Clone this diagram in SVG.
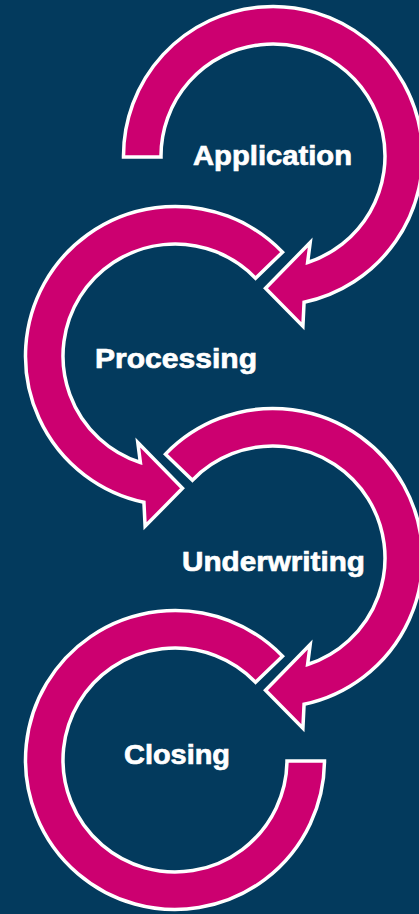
<svg xmlns="http://www.w3.org/2000/svg" width="419" height="914" viewBox="0 0 419 914">
  <style>
    .ring { fill: #cc0070; stroke: #ffffff; stroke-width: 3.5; stroke-linejoin: miter; stroke-miterlimit: 10; }
    .label { fill: #ffffff; stroke: #ffffff; stroke-width: 0.7; font-family: "Liberation Sans", Arial, sans-serif; font-weight: bold; font-size: 28.5px; }
  </style>
  <defs>
    <!-- ring arrow: flat tail at 224deg, clockwise sweep, arrowhead near 75deg -->
    <path id="arrow-ring" d="M -80.57 -77.80 L -107.54 -103.85 A 149.5 149.5 0 1 1 31.08 146.23 L 29.9 170.3 L -7.5 132.3 L 37.2 86.5 L 34.61 106.52 A 112 112 0 1 0 -80.57 -77.80 Z"/>
  </defs>

  <rect x="0" y="0" width="419" height="914" fill="#033a5d"/>

  <g id="application">
    <path class="ring" transform="translate(273,156)" d="M -112 1 L -149.5 1 A 149.5 149.5 0 1 1 31.08 146.23 L 29.9 170.3 L -7.5 132.3 L 37.2 86.5 L 34.61 106.52 A 112 112 0 1 0 -112 1 Z"/>
    <text class="label" x="193" y="165" textLength="159" lengthAdjust="spacingAndGlyphs">Application</text>
  </g>

  <g id="processing">
    <use class="ring" href="#arrow-ring" transform="translate(175,356) scale(-1,1)"/>
    <text class="label" x="95" y="368" textLength="162" lengthAdjust="spacingAndGlyphs">Processing</text>
  </g>

  <g id="underwriting">
    <use class="ring" href="#arrow-ring" transform="translate(273,558)"/>
    <text class="label" x="182" y="570.5" textLength="183" lengthAdjust="spacingAndGlyphs">Underwriting</text>
  </g>

  <g id="closing">
    <path class="ring" transform="translate(175,760) scale(-1,1)" d="M -80.57 -77.80 L -107.54 -103.85 A 149.5 149.5 0 1 1 -149.5 1 L -112 1 A 112 112 0 1 0 -80.57 -77.80 Z"/>
    <text class="label" x="124" y="763.5" textLength="106" lengthAdjust="spacingAndGlyphs">Closing</text>
  </g>

  <g id="connectors"/>
</svg>
